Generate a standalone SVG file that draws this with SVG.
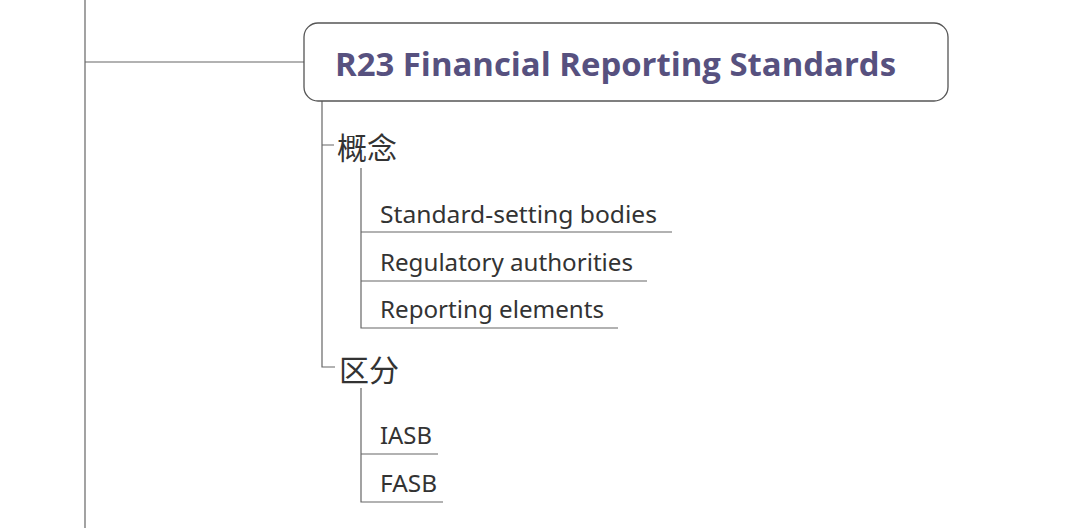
<svg xmlns="http://www.w3.org/2000/svg" width="1080" height="528" viewBox="0 0 1080 528">
<style>
.ln{stroke:#666;stroke-width:1.2;fill:none}
.t{font-family:"Noto Sans","Noto Sans CJK SC",sans-serif;fill:#333;font-size:24px}
.cj{font-family:"Noto Sans CJK SC",sans-serif;fill:#333;font-size:30px}
.title{font-family:"Open Sans","Noto Sans",sans-serif;font-weight:bold;fill:#57517f;font-size:32px}
</style>
<rect width="1080" height="528" fill="#fff"/>
<g id="connectors">
<path class="ln" d="M85 0V528M85 62H304"/>
<path class="ln" d="M322 101V367H335M322 145H334"/>
<path class="ln" d="M361 168V328H618M361 232H672M361 281H647"/>
<path class="ln" d="M361 388V502H443M361 454H438"/>
</g>
<g id="root">
<rect x="304" y="23" width="644" height="78" rx="14" fill="#fff" stroke="#555" stroke-width="1.3"/>
<text class="title" x="335" y="76" textLength="561" lengthAdjust="spacingAndGlyphs">R23 Financial Reporting Standards</text>
</g>
<g id="n-concept"><text class="cj" x="337" y="159">概念</text></g>
<g id="n-bodies"><text class="t" x="380" y="223" textLength="277" lengthAdjust="spacingAndGlyphs">Standard-setting bodies</text></g>
<g id="n-reg"><text class="t" x="380" y="271" textLength="253" lengthAdjust="spacingAndGlyphs">Regulatory authorities</text></g>
<g id="n-rep"><text class="t" x="380" y="318" textLength="224" lengthAdjust="spacingAndGlyphs">Reporting elements</text></g>
<g id="n-diff"><text class="cj" x="339" y="381">区分</text></g>
<g id="n-iasb"><text class="t" x="380" y="444" textLength="52" lengthAdjust="spacingAndGlyphs">IASB</text></g>
<g id="n-fasb"><text class="t" x="380" y="492" textLength="57" lengthAdjust="spacingAndGlyphs">FASB</text></g>
</svg>
